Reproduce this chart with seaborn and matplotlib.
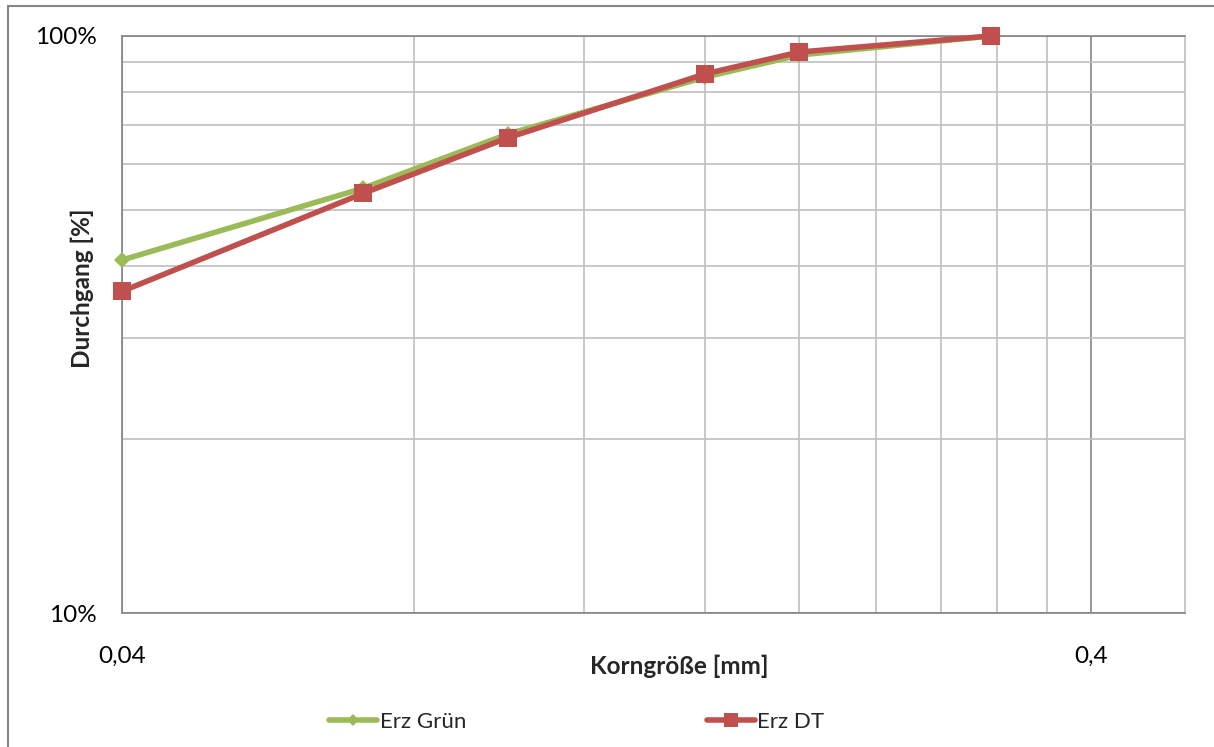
import matplotlib
matplotlib.use('agg')
import matplotlib.pyplot as plt
import seaborn as sns
import pandas as pd
from matplotlib.lines import Line2D
from matplotlib.ticker import FixedLocator, NullFormatter

# sieve sizes [mm] and passing [%]
korngroesse = [0.04, 0.071, 0.1, 0.16, 0.2, 0.315]
erz_gruen = [40.9, 54.5, 67.6, 84.9, 92.7, 100.0]
erz_dt = [36.1, 53.4, 66.6, 86.0, 93.8, 100.0]

x_major = [0.04, 0.4]
x_major_labels = ["0,04", "0,4"]
x_minor = [0.08, 0.12, 0.16, 0.2, 0.24, 0.28, 0.32, 0.36]
y_major = [10, 100]
y_major_labels = ["10%", "100%"]
y_minor = [20, 30, 40, 50, 60, 70, 80, 90]

sns.set_theme(style="white")
plt.rcParams['font.family'] = ['Lato', 'DejaVu Sans']
FS = 17.5

df_gruen = pd.DataFrame({"Korngröße": korngroesse, "Durchgang": erz_gruen})
df_dt = pd.DataFrame({"Korngröße": korngroesse, "Durchgang": erz_dt})

fig = plt.figure(figsize=(12.14, 7.47), dpi=100)
ax = fig.add_axes([122 / 1214, 1 - 613 / 747, (1185 - 122) / 1214, (613 - 36) / 747])

sns.lineplot(data=df_gruen, x="Korngröße", y="Durchgang", ax=ax, color="#9BBB59",
             linewidth=4, marker="D", markersize=8, markeredgewidth=0,
             label="Erz Grün", zorder=3, clip_on=False)
sns.lineplot(data=df_dt, x="Korngröße", y="Durchgang", ax=ax, color="#C0504D",
             linewidth=4, marker="s", markersize=13, markeredgewidth=0,
             label="Erz DT", zorder=4, clip_on=False)

ax.set_xscale("log")
ax.set_yscale("log")
ax.set_xlim(0.04, 0.5)
ax.set_ylim(10, 100)

ax.xaxis.set_major_locator(FixedLocator(x_major))
ax.set_xticklabels(x_major_labels)
ax.xaxis.set_minor_locator(FixedLocator(x_minor))
ax.xaxis.set_minor_formatter(NullFormatter())
ax.yaxis.set_major_locator(FixedLocator(y_major))
ax.set_yticklabels(y_major_labels)
ax.yaxis.set_minor_locator(FixedLocator(y_minor))
ax.yaxis.set_minor_formatter(NullFormatter())

ax.grid(True, which="major", color="#868686", linewidth=1.2)
ax.grid(True, which="minor", color="#BFBFBF", linewidth=1.2)
ax.set_axisbelow(True)

ax.tick_params(axis="both", which="both", length=0, labelsize=FS, colors="black")
ax.tick_params(axis="x", pad=24)
ax.tick_params(axis="y", pad=18)

for side in ["left", "bottom", "top"]:
    ax.spines[side].set_color("#868686")
    ax.spines[side].set_linewidth(1.2)
ax.spines["right"].set_color("#BFBFBF")
ax.spines["right"].set_linewidth(1.2)

ax.set_xlabel("Korngröße [mm]", fontsize=FS, fontweight="bold")
ax.xaxis.set_label_coords((679 - 122) / 1063, (613 - 655) / 577)
ax.set_ylabel("Durchgang [%]", fontsize=FS, fontweight="bold")
ax.yaxis.set_label_coords((94 - 122) / 1063, (613 - 288) / 577)

ax.legend_.remove()
handles, labels = ax.get_legend_handles_labels()
fig.legend(handles, labels, loc="center", ncol=2, frameon=False, fontsize=16,
           bbox_to_anchor=(577 / 1214, 1 - 722 / 747), columnspacing=10.85,
           handlelength=2.16, handletextpad=0.1, markerscale=0.8)

# outer chart border
fig.add_artist(Line2D([8 / 1214, 8 / 1214], [0, 1 - 6 / 747], color="#868686", linewidth=1.5))
fig.add_artist(Line2D([8 / 1214, 1], [1 - 6 / 747, 1 - 6 / 747], color="#868686", linewidth=1.5))

fig.savefig("out.png", dpi=100, facecolor="white")
